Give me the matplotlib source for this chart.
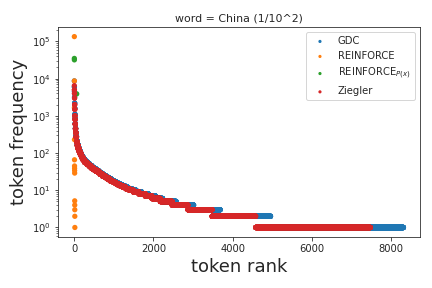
import numpy as np
import matplotlib
matplotlib.use("Agg")
import matplotlib.pyplot as plt
import seaborn as sns

# frequency levels and the last rank at which each level occurs
gdc_freq = [8700, 6000, 4500, 3200, 2200, 1600, 1100, 850, 620, 460, 360, 280, 210,
            165, 135, 112, 97, 85, 76, 66, 57, 51, 46, 41, 37, 33, 30, 27, 24, 22,
            20, 18, 17, 16, 15, 14, 13, 12, 11, 10, 9, 8, 7, 6, 5, 4, 3, 2, 1]
gdc_end = [0, 2, 4, 6, 9, 12, 16, 20, 26, 33, 42, 55, 73,
           97, 123, 150, 175, 198, 228, 270, 330, 385, 435, 495, 555, 620, 675, 735, 810, 870,
           935, 1000, 1050, 1095, 1150, 1210, 1280, 1355, 1450, 1560, 1700, 1870, 2050, 2230,
           2570, 3013, 3684, 4957, 8316]

zieg_freq = [6500, 5000, 4000, 3000, 2000, 1500, 1000, 800, 600, 450, 350, 270, 200,
             160, 130, 110, 95, 84, 75, 65, 56, 50, 45, 40, 36, 33, 30, 27, 24, 22,
             20, 18, 17, 16, 15, 14, 13, 12, 11, 10, 9, 8, 7, 6, 5, 4, 3, 2, 1]
zieg_end = [0, 2, 4, 6, 9, 12, 16, 20, 26, 33, 42, 55, 72,
            95, 120, 145, 170, 190, 220, 260, 320, 370, 420, 480, 540, 600, 650, 710, 780, 840,
            900, 960, 1010, 1050, 1100, 1160, 1230, 1300, 1390, 1490, 1630, 1790, 1960, 2170,
            2470, 2870, 3480, 4580, 7480]

rf_rank = [0, 1, 2, 3, 4, 5, 6, 7, 8, 9, 10, 11, 12, 13]
rf_freq = [135000, 8700, 1650, 230, 66, 45, 39, 34, 29, 5.2, 4, 3, 2, 1]

rfp_rank = [0, 1, 60]
rfp_freq = [35000, 32000, 3900]


def expand(freq, end):
    ranks, vals = [], []
    start = 0
    for f, e in zip(freq, end):
        r = np.arange(start, e + 1)
        ranks.append(r)
        vals.append(np.full(len(r), f))
        start = e + 1
    return np.concatenate(ranks), np.concatenate(vals)


sns.set_style("ticks")
plt.rcParams["font.family"] = ["DejaVu Sans"]

fig, ax = plt.subplots(figsize=(6, 4), dpi=72)
fig.subplots_adjust(left=0.134, right=0.972, bottom=0.177, top=0.906)

c = sns.color_palette()
s = 28
x, y = expand(gdc_freq, gdc_end)
ax.scatter(x, y, s=s, color=c[0], edgecolor="none", label="GDC")
ax.scatter(rf_rank, rf_freq, s=s, color=c[1], edgecolor="none", label="REINFORCE")
ax.scatter(rfp_rank, rfp_freq, s=s, color=c[2], edgecolor="none", label="REINFORCE$_{P(x)}$")
x, y = expand(zieg_freq, zieg_end)
ax.scatter(x, y, s=s, color=c[3], edgecolor="none", label="Ziegler")

ax.set_yscale("log")
ax.set_title("word = China (1/10^2)", fontsize=11)
ax.set_xlabel("token rank", fontsize=18)
ax.set_ylabel("token frequency", fontsize=18)
ax.tick_params(labelsize=10)
ax.legend(loc="upper right", fontsize=10, markerscale=0.6, frameon=True)

fig.savefig("out.png", dpi=72)
